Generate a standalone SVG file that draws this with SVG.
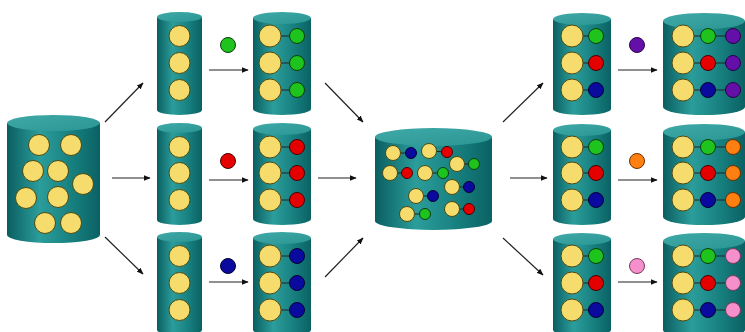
<svg xmlns="http://www.w3.org/2000/svg" width="745" height="332" viewBox="0 0 745 332">
<defs>
<linearGradient id="body" x1="0" y1="0" x2="1" y2="0">
<stop offset="0" stop-color="#0a5e60"/>
<stop offset="0.35" stop-color="#2b9d9b"/>
<stop offset="0.7" stop-color="#17807f"/>
<stop offset="1" stop-color="#0b6163"/>
</linearGradient>
<linearGradient id="top" x1="0" y1="0" x2="1" y2="1">
<stop offset="0" stop-color="#3fa9a7"/>
<stop offset="1" stop-color="#2a9694"/>
</linearGradient>
<marker id="ah" viewBox="0 0 10 10" refX="9" refY="5" markerWidth="7" markerHeight="7" orient="auto" markerUnits="userSpaceOnUse">
<path d="M0,1 L10,5 L0,9 Z" fill="#111"/>
</marker>
</defs>
<style>
.b{fill:url(#body)}
.t{fill:url(#top)}
.y{fill:#f6dc6c;stroke:#4d4a12;stroke-width:1}
.g{fill:#1ec31e;stroke:#0b3d0b;stroke-width:1}
.r{fill:#e50000;stroke:#4a0000;stroke-width:1}
.u{fill:#0a0a9e;stroke:#000033;stroke-width:1}
.p{fill:#6410a8;stroke:#2a0048;stroke-width:1}
.o{fill:#ff8010;stroke:#6a3000;stroke-width:1}
.k{fill:#f590cc;stroke:#7a3a5a;stroke-width:1}
.l{stroke:#222;stroke-width:1;fill:none}
.a{stroke:#222;stroke-width:1.2;fill:none;marker-end:url(#ah)}
</style>

<g id="connectors">
<line class="a" x1="105" y1="122" x2="143" y2="83"/>
<line class="a" x1="112" y1="178" x2="150" y2="178"/>
<line class="a" x1="105" y1="237" x2="143" y2="274"/>
<line class="a" x1="209" y1="70" x2="248" y2="70"/>
<line class="a" x1="209" y1="180" x2="248" y2="180"/>
<line class="a" x1="209" y1="282" x2="248" y2="282"/>
<line class="a" x1="325" y1="83" x2="363" y2="122"/>
<line class="a" x1="318" y1="178" x2="356" y2="178"/>
<line class="a" x1="325" y1="277" x2="363" y2="238"/>
<line class="a" x1="503" y1="122" x2="543" y2="83"/>
<line class="a" x1="510" y1="178" x2="547" y2="178"/>
<line class="a" x1="503" y1="238" x2="543" y2="275"/>
<line class="a" x1="618" y1="70" x2="657" y2="70"/>
<line class="a" x1="618" y1="180" x2="657" y2="180"/>
<line class="a" x1="618" y1="282" x2="657" y2="282"/>
</g>

<g id="source">
<path class="b" d="M7,123 V235 A46.5,8 0 0 0 100,235 V123 Z"/>
<ellipse class="t" cx="53.5" cy="123" rx="46.5" ry="8"/>
<circle class="y" cx="39" cy="145" r="10.5"/>
<circle class="y" cx="71" cy="145" r="10.5"/>
<circle class="y" cx="33" cy="171" r="10.5"/>
<circle class="y" cx="58" cy="171" r="10.5"/>
<circle class="y" cx="83" cy="184" r="10.5"/>
<circle class="y" cx="26" cy="198" r="10.5"/>
<circle class="y" cx="58" cy="197" r="10.5"/>
<circle class="y" cx="45" cy="223" r="10.5"/>
<circle class="y" cx="71" cy="223" r="10.5"/>
</g>

<g id="split-top">
<path class="b" d="M157,17 V110 A22.5,5 0 0 0 202,110 V17 Z"/>
<ellipse class="t" cx="179.5" cy="17" rx="22.5" ry="5"/>
<circle class="y" cx="179.5" cy="36" r="10.5"/>
<circle class="y" cx="179.5" cy="63" r="10.5"/>
<circle class="y" cx="179.5" cy="90" r="10.5"/>
</g>
<g id="split-mid">
<path class="b" d="M157,128 V220 A22.5,5 0 0 0 202,220 V128 Z"/>
<ellipse class="t" cx="179.5" cy="128" rx="22.5" ry="5"/>
<circle class="y" cx="179.5" cy="147" r="10.5"/>
<circle class="y" cx="179.5" cy="173" r="10.5"/>
<circle class="y" cx="179.5" cy="200" r="10.5"/>
</g>
<g id="split-bot">
<path class="b" d="M157,237 V330 A22.5,5 0 0 0 202,330 V237 Z"/>
<ellipse class="t" cx="179.5" cy="237" rx="22.5" ry="5"/>
<circle class="y" cx="179.5" cy="256" r="10.5"/>
<circle class="y" cx="179.5" cy="283" r="10.5"/>
<circle class="y" cx="179.5" cy="310" r="10.5"/>
</g>

<g id="reagent-green"><circle class="g" cx="228" cy="45" r="7.5"/></g>
<g id="reagent-red"><circle class="r" cx="228" cy="161" r="7.5"/></g>
<g id="reagent-blue"><circle class="u" cx="228" cy="266" r="7.5"/></g>

<g id="step1-top">
<path class="b" d="M253,18 V109 A29,6 0 0 0 311,109 V18 Z"/>
<ellipse class="t" cx="282" cy="18" rx="29" ry="6"/>
<line class="l" x1="281" y1="36" x2="297" y2="36"/>
<line class="l" x1="281" y1="63" x2="297" y2="63"/>
<line class="l" x1="281" y1="90" x2="297" y2="90"/>
<circle class="y" cx="270" cy="36" r="11"/>
<circle class="y" cx="270" cy="63" r="11"/>
<circle class="y" cx="270" cy="90" r="11"/>
<circle class="g" cx="297" cy="36" r="7.5"/>
<circle class="g" cx="297" cy="63" r="7.5"/>
<circle class="g" cx="297" cy="90" r="7.5"/>
</g>
<g id="step1-mid">
<path class="b" d="M253,129 V219 A29,6 0 0 0 311,219 V129 Z"/>
<ellipse class="t" cx="282" cy="129" rx="29" ry="6"/>
<line class="l" x1="281" y1="147" x2="297" y2="147"/>
<line class="l" x1="281" y1="173" x2="297" y2="173"/>
<line class="l" x1="281" y1="200" x2="297" y2="200"/>
<circle class="y" cx="270" cy="147" r="11"/>
<circle class="y" cx="270" cy="173" r="11"/>
<circle class="y" cx="270" cy="200" r="11"/>
<circle class="r" cx="297" cy="147" r="7.5"/>
<circle class="r" cx="297" cy="173" r="7.5"/>
<circle class="r" cx="297" cy="200" r="7.5"/>
</g>
<g id="step1-bot">
<path class="b" d="M253,238 V330 A29,6 0 0 0 311,330 V238 Z"/>
<ellipse class="t" cx="282" cy="238" rx="29" ry="6"/>
<line class="l" x1="281" y1="256" x2="297" y2="256"/>
<line class="l" x1="281" y1="283" x2="297" y2="283"/>
<line class="l" x1="281" y1="310" x2="297" y2="310"/>
<circle class="y" cx="270" cy="256" r="11"/>
<circle class="y" cx="270" cy="283" r="11"/>
<circle class="y" cx="270" cy="310" r="11"/>
<circle class="u" cx="297" cy="256" r="7.5"/>
<circle class="u" cx="297" cy="283" r="7.5"/>
<circle class="u" cx="297" cy="310" r="7.5"/>
</g>

<g id="pool">
<path class="b" d="M375,137 V221 A58.5,9 0 0 0 492,221 V137 Z"/>
<ellipse class="t" cx="433.5" cy="137" rx="58.5" ry="9"/>
<path class="l" d="M393,153 H411 M429,151 L447,152 M457,164 H474 M390,173 H407 M425,173 H443 M452,187 H469 M416,196 H433 M407,214 H425 M452,209 H469"/>
<circle class="y" cx="393" cy="153" r="7.5"/><circle class="u" cx="411" cy="153" r="5.5"/>
<circle class="y" cx="429" cy="151" r="7.5"/><circle class="r" cx="447" cy="152" r="5.5"/>
<circle class="y" cx="457" cy="164" r="7.5"/><circle class="g" cx="474" cy="164" r="5.5"/>
<circle class="y" cx="390" cy="173" r="7.5"/><circle class="r" cx="407" cy="173" r="5.5"/>
<circle class="y" cx="425" cy="173" r="7.5"/><circle class="g" cx="443" cy="173" r="5.5"/>
<circle class="y" cx="452" cy="187" r="7.5"/><circle class="u" cx="469" cy="187" r="5.5"/>
<circle class="y" cx="416" cy="196" r="7.5"/><circle class="u" cx="433" cy="196" r="5.5"/>
<circle class="y" cx="407" cy="214" r="7.5"/><circle class="g" cx="425" cy="214" r="5.5"/>
<circle class="y" cx="452" cy="209" r="7.5"/><circle class="r" cx="469" cy="209" r="5.5"/>
</g>

<g id="split2-top">
<path class="b" d="M553,19 V109 A29,6 0 0 0 611,109 V19 Z"/>
<ellipse class="t" cx="582" cy="19" rx="29" ry="6"/>
<path class="l" d="M583,36 H596 M583,63 H596 M583,90 H596"/>
<circle class="y" cx="572" cy="36" r="11"/><circle class="g" cx="596" cy="36" r="7.5"/>
<circle class="y" cx="572" cy="63" r="11"/><circle class="r" cx="596" cy="63" r="7.5"/>
<circle class="y" cx="572" cy="90" r="11"/><circle class="u" cx="596" cy="90" r="7.5"/>
</g>
<g id="split2-mid">
<path class="b" d="M553,130 V219 A29,6 0 0 0 611,219 V130 Z"/>
<ellipse class="t" cx="582" cy="130" rx="29" ry="6"/>
<path class="l" d="M583,147 H596 M583,173 H596 M583,200 H596"/>
<circle class="y" cx="572" cy="147" r="11"/><circle class="g" cx="596" cy="147" r="7.5"/>
<circle class="y" cx="572" cy="173" r="11"/><circle class="r" cx="596" cy="173" r="7.5"/>
<circle class="y" cx="572" cy="200" r="11"/><circle class="u" cx="596" cy="200" r="7.5"/>
</g>
<g id="split2-bot">
<path class="b" d="M553,239 V330 A29,6 0 0 0 611,330 V239 Z"/>
<ellipse class="t" cx="582" cy="239" rx="29" ry="6"/>
<path class="l" d="M583,256 H596 M583,283 H596 M583,310 H596"/>
<circle class="y" cx="572" cy="256" r="11"/><circle class="g" cx="596" cy="256" r="7.5"/>
<circle class="y" cx="572" cy="283" r="11"/><circle class="r" cx="596" cy="283" r="7.5"/>
<circle class="y" cx="572" cy="310" r="11"/><circle class="u" cx="596" cy="310" r="7.5"/>
</g>

<g id="reagent-purple"><circle class="p" cx="637" cy="45" r="7.5"/></g>
<g id="reagent-orange"><circle class="o" cx="637" cy="161" r="7.5"/></g>
<g id="reagent-pink"><circle class="k" cx="637" cy="266" r="7.5"/></g>

<g id="step2-top">
<path class="b" d="M663,21 V107 A41,8 0 0 0 745,107 V21 Z"/>
<ellipse class="t" cx="704" cy="21" rx="41" ry="8"/>
<path class="l" d="M694,36 H733 M694,63 H733 M694,90 H733"/>
<circle class="y" cx="683" cy="36" r="11"/><circle class="g" cx="708" cy="36" r="7.5"/><circle class="p" cx="733" cy="36" r="7.5"/>
<circle class="y" cx="683" cy="63" r="11"/><circle class="r" cx="708" cy="63" r="7.5"/><circle class="p" cx="733" cy="63" r="7.5"/>
<circle class="y" cx="683" cy="90" r="11"/><circle class="u" cx="708" cy="90" r="7.5"/><circle class="p" cx="733" cy="90" r="7.5"/>
</g>
<g id="step2-mid">
<path class="b" d="M663,132 V217 A41,8 0 0 0 745,217 V132 Z"/>
<ellipse class="t" cx="704" cy="132" rx="41" ry="8"/>
<path class="l" d="M694,147 H733 M694,173 H733 M694,200 H733"/>
<circle class="y" cx="683" cy="147" r="11"/><circle class="g" cx="708" cy="147" r="7.5"/><circle class="o" cx="733" cy="147" r="7.5"/>
<circle class="y" cx="683" cy="173" r="11"/><circle class="r" cx="708" cy="173" r="7.5"/><circle class="o" cx="733" cy="173" r="7.5"/>
<circle class="y" cx="683" cy="200" r="11"/><circle class="u" cx="708" cy="200" r="7.5"/><circle class="o" cx="733" cy="200" r="7.5"/>
</g>
<g id="step2-bot">
<path class="b" d="M663,241 V330 A41,8 0 0 0 745,330 V241 Z"/>
<ellipse class="t" cx="704" cy="241" rx="41" ry="8"/>
<path class="l" d="M694,256 H733 M694,283 H733 M694,310 H733"/>
<circle class="y" cx="683" cy="256" r="11"/><circle class="g" cx="708" cy="256" r="7.5"/><circle class="k" cx="733" cy="256" r="7.5"/>
<circle class="y" cx="683" cy="283" r="11"/><circle class="r" cx="708" cy="283" r="7.5"/><circle class="k" cx="733" cy="283" r="7.5"/>
<circle class="y" cx="683" cy="310" r="11"/><circle class="u" cx="708" cy="310" r="7.5"/><circle class="k" cx="733" cy="310" r="7.5"/>
</g>
</svg>
